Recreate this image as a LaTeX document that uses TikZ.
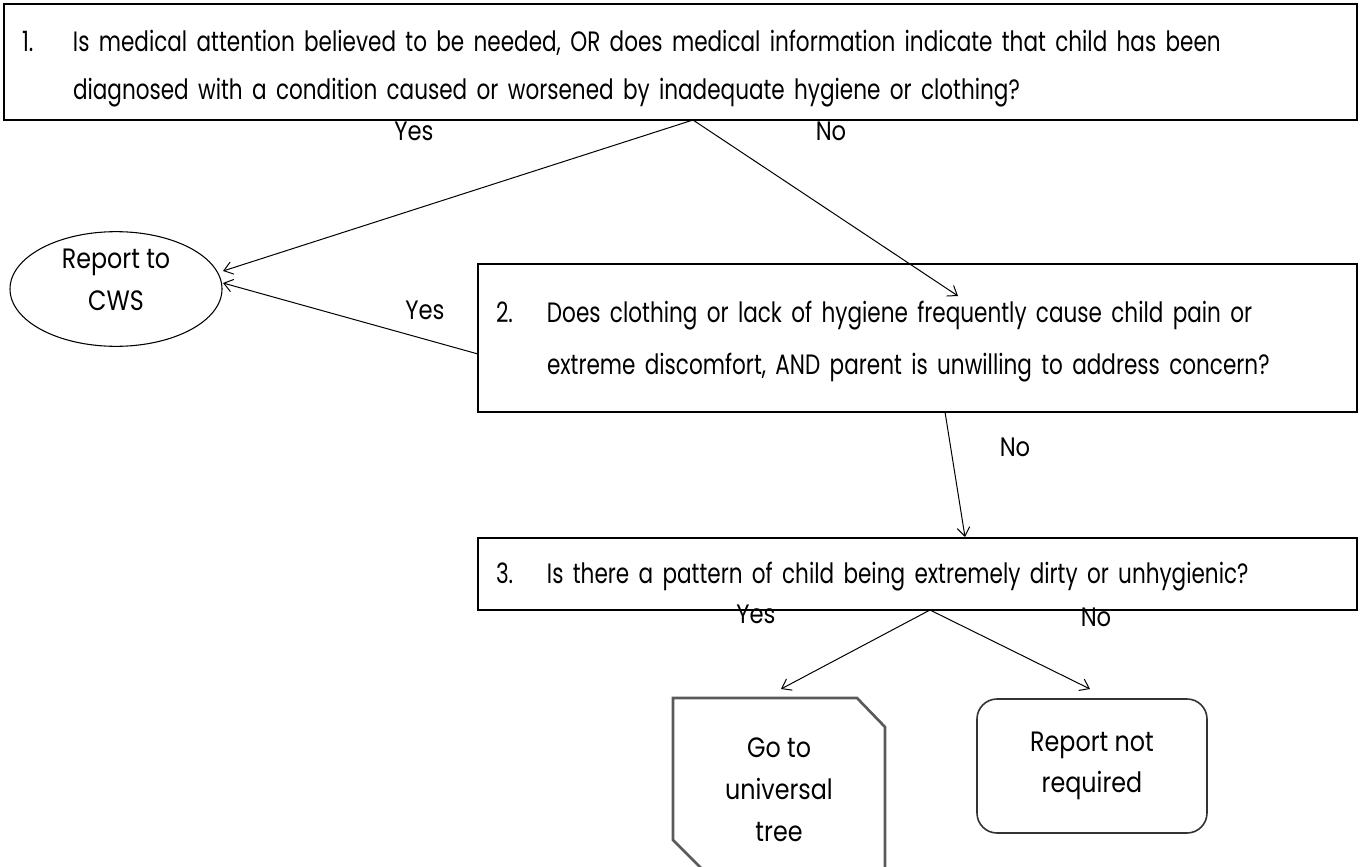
\documentclass[tikz,border=0pt]{standalone}
\usepackage{fontspec}
\setmainfont{Poppins}
\newfontfamily\qfont[FakeStretch=0.77]{Poppins}
\newfontfamily\ofont[FakeStretch=0.85]{Poppins}
\usetikzlibrary{shapes.geometric,arrows.meta}

\definecolor{octgray}{HTML}{5A5A5A}
\definecolor{endgray}{HTML}{333333}

\tikzset{
  qbox/.style={draw=black, line width=1.3pt, rectangle, inner xsep=13.5pt, inner ysep=0pt, align=left},
  arr/.style={line width=0.75pt, -{Straight Barb[length=6.5pt,width=9.5pt]}},
  lbl/.style={font=\ofont\fontsize{20}{24}\selectfont, inner sep=0pt},
  endtxt/.style={align=center, inner sep=0pt},
}

\begin{document}
\begin{tikzpicture}[x=0.75pt,y=-0.75pt]
\useasboundingbox (0,0) rectangle (1360,867);
\clip (0,0) rectangle (1360,867);

% question boxes
\node[qbox, text width=987.75pt, minimum height=87pt, font=\qfont\fontsize{21}{36}\selectfont]
  (q1) at (680.5,62)
  {\raisebox{-3pt}[\height][\depth]{\begin{tabular}{@{}p{38.25pt}@{}l@{}}
   1. & Is medical attention believed to be needed, OR does medical information indicate that child has been\\
      & diagnosed with a condition caused or worsened by inadequate hygiene or clothing?
   \end{tabular}}};

\node[qbox, text width=632.25pt, minimum height=111pt, font=\qfont\fontsize{21}{39}\selectfont]
  (q2) at (917.5,338)
  {\begin{tabular}{@{}p{38.25pt}@{}l@{}}
   2. & Does clothing or lack of hygiene frequently cause child pain or\\
      & extreme discomfort, AND parent is unwilling to address concern?
   \end{tabular}};

\node[qbox, text width=632.25pt, minimum height=54pt, font=\qfont\fontsize{21}{36}\selectfont]
  (q3) at (917.5,574)
  {\begin{tabular}{@{}p{38.25pt}@{}l@{}}
   3. & Is there a pattern of child being extremely dirty or unhygienic?
   \end{tabular}};

% outcomes
\node[ellipse, draw=black, line width=0.8pt, minimum width=159pt, minimum height=86pt,
      inner sep=0pt] (cws) at (116,289) {};
\node[endtxt, font=\ofont\fontsize{21}{31}\selectfont] (cwst) at (116,280) {Report to\\CWS};

\draw[octgray, line width=2pt, line join=miter]
  (885,880) -- (885,727) -- (857,698) -- (673,698) -- (673,840) -- (713,880);
\node[endtxt, font=\ofont\fontsize{21}{31.5}\selectfont] (univ) at (779,790) {Go to\\universal\\tree};

\node[draw=endgray, line width=1.2pt, rounded corners=15pt, minimum width=172.5pt,
      minimum height=100.5pt, align=center, font=\ofont\fontsize{21}{31}\selectfont]
  (norep) at (1092,766) {Report not\\required};

% connection points on the shape outlines
\coordinate (q1o) at (693,120);
\coordinate (q2in) at (958,296);
\coordinate (q2l) at (478,354);
\coordinate (q2o) at (945,412);
\coordinate (q3in) at (965,537);
\coordinate (q3o) at (930,610);
\coordinate (univin) at (781,689);
\coordinate (norepin) at (1090,689);
\coordinate (cwsa) at (223,271);
\coordinate (cwsb) at (223,283);

\draw[arr] (q1o) -- (cwsa);
\draw[arr] (q1o) -- (q2in);
\draw[arr] (q2l) -- (cwsb);
\draw[arr] (q2o) -- (q3in);
\draw[arr] (q3o) -- (univin);
\draw[arr] (q3o) -- (norepin);

% branch labels
\node[lbl] (y1) at (414,131) {Yes};
\node[lbl] (n1) at (831,131) {No};
\node[lbl] (y2) at (425,310) {Yes};
\node[lbl] (n2) at (1015,447) {No};
\node[lbl] (y3) at (756,614) {Yes};
\node[lbl] (n3) at (1096,617) {No};
\end{tikzpicture}
\end{document}
